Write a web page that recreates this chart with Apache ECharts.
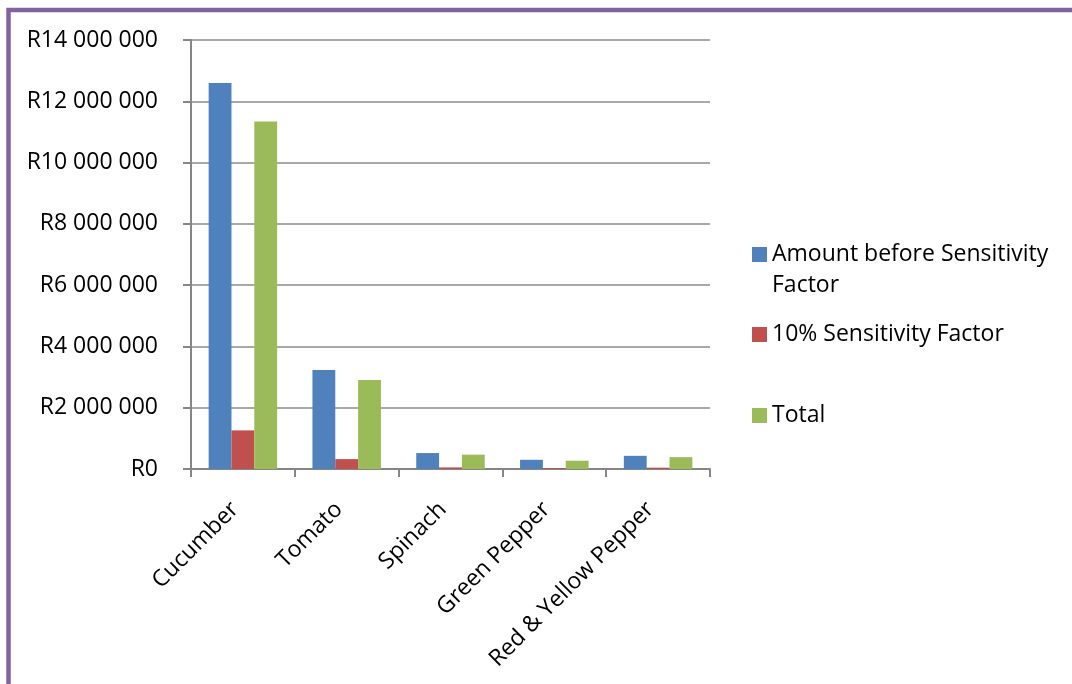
<!DOCTYPE html>
<html>
<head>
<meta charset="utf-8">
<script src="https://cdn.jsdelivr.net/npm/echarts@6/dist/echarts.min.js"></script>
<style>
html,body{margin:0;padding:0;background:#fff;}
#chart{width:1072px;height:684px;}
</style>
</head>
<body>
<div id="chart"></div>
<script>
const categories = ['Cucumber', 'Tomato', 'Spinach', 'Green Pepper', 'Red & Yellow Pepper'];
const seriesNames = ['Amount before Sensitivity Factor', '10% Sensitivity Factor', 'Total'];
const amountBefore = [12600000, 3230000, 520000, 300000, 430000];
const sensitivity = [1260000, 323000, 52000, 30000, 43000];
const total = [11340000, 2907000, 468000, 270000, 387000];
const yTicks = [0, 2000000, 4000000, 6000000, 8000000, 10000000, 12000000, 14000000];

const FONT = 'Open Sans';
const colors = ['#4F81BD', '#C0504D', '#9BBB59'];

function fmtRand(v) {
  const s = String(Math.round(v)).replace(/\B(?=(\d{3})+(?!\d))/g, ' ');
  return 'R' + s;
}

const chart = echarts.init(document.getElementById('chart'));
const legendText = {fontFamily: FONT, fontSize: 23, color: '#000', lineHeight: 31};
const legendBase = {orient: 'vertical', left: 752, padding: 0, itemWidth: 15, itemHeight: 15,
                    selectedMode: false, icon: 'rect', textStyle: legendText};
chart.setOption({
  animation: false,
  backgroundColor: '#fff',
  color: colors,
  grid: {left: 191, right: 362, top: 40, bottom: 215, containLabel: false},
  legend: [
    Object.assign({}, legendBase, {data: [seriesNames[0]], top: 208,
      formatter: () => '\nAmount before Sensitivity\nFactor'}),
    Object.assign({}, legendBase, {data: [seriesNames[1]], top: 319}),
    Object.assign({}, legendBase, {data: [seriesNames[2]], top: 400})
  ],
  xAxis: {
    type: 'category',
    data: categories,
    axisLine: {show: true, lineStyle: {color: '#868686', width: 2}},
    axisTick: {show: true, length: 8, lineStyle: {color: '#868686', width: 2}},
    axisLabel: {rotate: 45, margin: 29, padding: [0, 11, 0, 0], fontFamily: FONT, fontSize: 23,
                color: '#000', interval: 0}
  },
  yAxis: {
    type: 'value',
    min: yTicks[0],
    max: yTicks[yTicks.length - 1],
    interval: yTicks[1] - yTicks[0],
    axisLine: {show: true, lineStyle: {color: '#868686', width: 2}},
    axisTick: {show: true, length: 8, lineStyle: {color: '#868686', width: 2}},
    splitLine: {show: true, lineStyle: {color: '#8C8C8C', width: 1.5}},
    axisLabel: {margin: 33, fontFamily: FONT, fontSize: 23, color: '#000', formatter: fmtRand}
  },
  series: [
    {name: seriesNames[0], type: 'bar', data: amountBefore, barGap: '0%', barCategoryGap: '34%'},
    {name: seriesNames[1], type: 'bar', data: sensitivity, barGap: '0%', barCategoryGap: '34%'},
    {name: seriesNames[2], type: 'bar', data: total, barGap: '0%', barCategoryGap: '34%'}
  ],
  graphic: [
    {type: 'rect', shape: {x: 8.5, y: 10, width: 1200, height: 900}, silent: true, z: -1,
     style: {fill: null, stroke: '#8064A2', lineWidth: 4.5}}
  ]
});
</script>
</body>
</html>
